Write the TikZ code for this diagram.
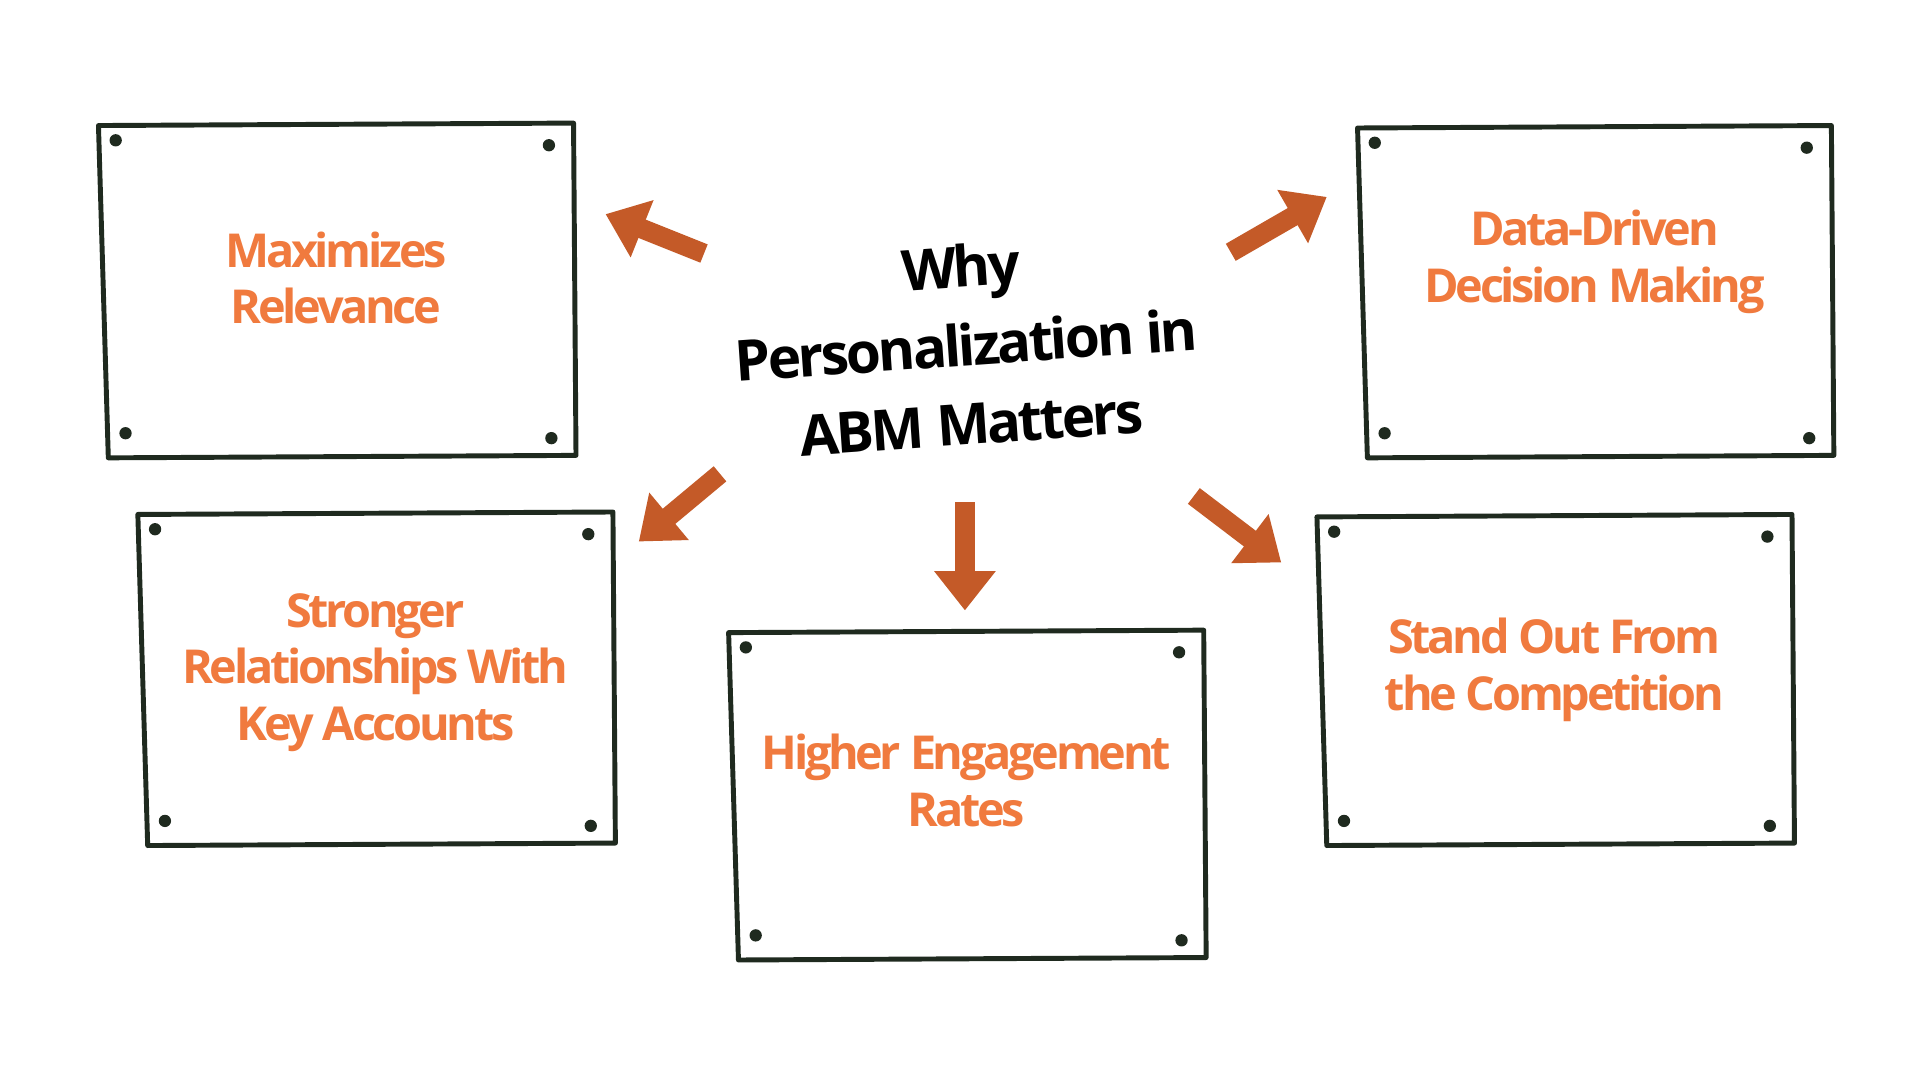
\documentclass[tikz,border=0pt]{standalone}
\usepackage{fontspec}
\setmainfont{Open Sans}
\newfontfamily\condfont[LetterSpace=-7]{Open Sans}
\newfontfamily\titlefont[LetterSpace=-5]{Open Sans}
\usetikzlibrary{arrows.meta}
\definecolor{frame}{HTML}{1F2A1F}
\definecolor{boxtxt}{HTML}{F07A3E}
\definecolor{arr}{HTML}{C45A28}
\tikzset{
 card/.style={draw=frame,line width=2pt,line join=round},
 dot/.style={fill=frame,circle,inner sep=0pt,minimum size=5pt},
 lbl/.style={text=boxtxt,font=\condfont\fontsize{19}{23}\selectfont\bfseries,align=center},
 bigarrow/.style={draw=arr,line width=8pt,-{Triangle[length=16pt,width=24pt]}}
}
\begin{document}
\begin{tikzpicture}[x=0.5pt,y=-0.5pt]
\useasboundingbox (0,0) rectangle (1560,877);
\fill[white] (0,0) rectangle (1560,877);
\newcommand{\card}[7]{%
 \draw[card] (#1,#2) -- (#3,#2-2) -- (#3+2,#4) -- (#1+8,#4+2) -- cycle;
 \node[dot] at (#1+14,#2+12) {}; \node[dot] at (#3-20,#2+16) {};
 \node[dot] at (#1+22,#4-18) {}; \node[dot] at (#3-18,#4-14) {};
 \node[lbl] (#5) at ({(#1+#3)/2},{(#2+#4)/2+#7}) {#6};}
\card{80}{102}{466}{370}{b1}{Maximizes\\Relevance}{-10}
\card{1103}{104}{1488}{370}{b2}{Data-Driven\\Decision Making}{-24}
\card{112}{418}{498}{685}{b3}{Stronger\\Relationships With\\Key Accounts}{-5}
\card{592}{514}{978}{778}{b4}{Higher Engagement\\Rates}{-12}
\card{1070}{420}{1456}{685}{b5}{Stand Out From\\the Competition}{-8}
\node[rotate=4,align=center,font=\titlefont\fontsize{23}{32}\selectfont\bfseries,text=black] (t) at (785,280) {Why\\Personalization in\\ABM Matters};
\coordinate (a1s) at (572,206); \coordinate (a1e) at (492,174);
\coordinate (a2s) at (1000,205); \coordinate (a2e) at (1078,160);
\coordinate (a3s) at (585,385); \coordinate (a3e) at (519,440);
\coordinate (a4s) at (784,408); \coordinate (a4e) at (784,496);
\coordinate (a5s) at (970,403); \coordinate (a5e) at (1041,457);
\foreach \s/\e in {a1s/a1e,a2s/a2e,a3s/a3e,a4s/a4e,a5s/a5e}
 \draw[bigarrow] (\s) -- (\e);
\end{tikzpicture}
\end{document}
